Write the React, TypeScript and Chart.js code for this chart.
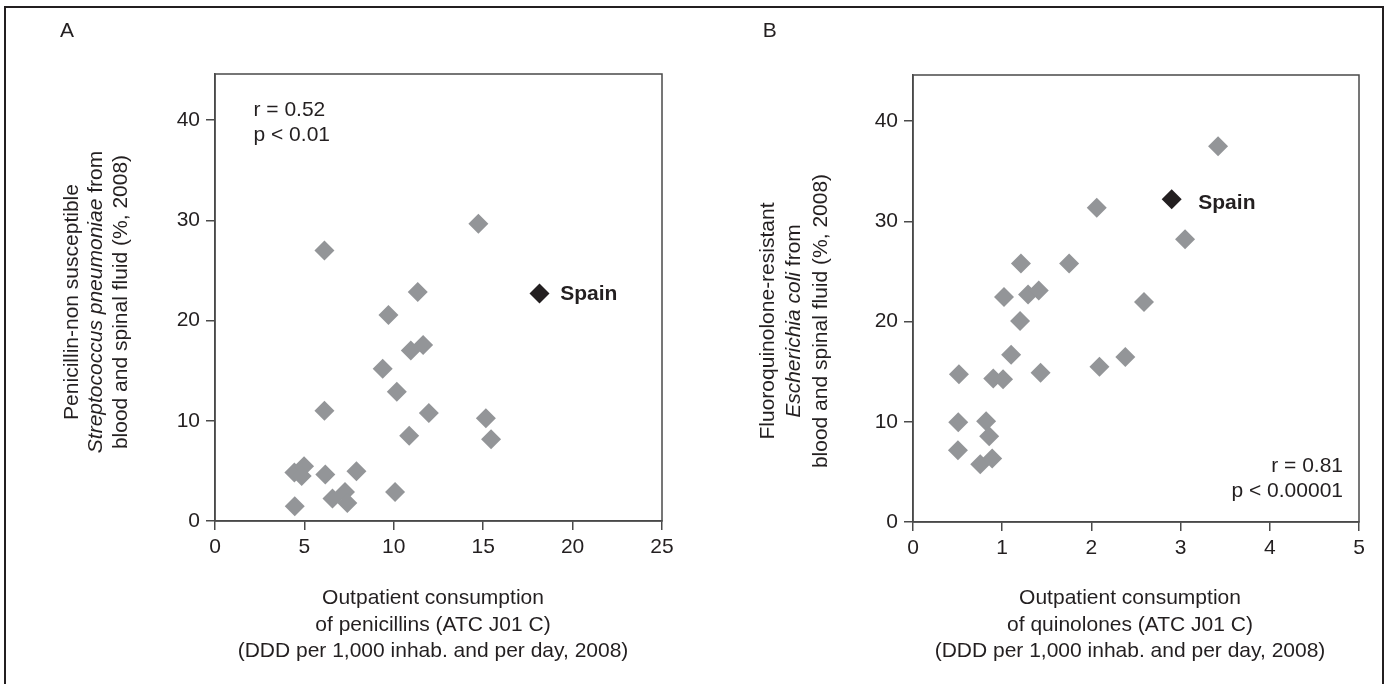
import React, { useEffect, useRef } from "react";
import { Chart, registerables } from "chart.js";

Chart.register(...registerables);

const FONT = "'Liberation Sans', Arial, Helvetica, sans-serif";
const TEXT = "#231f20";
const AXIS = "#4a4a4a";
const GRAY = "#939598";
const DARK = "#231f20";

// ---------- Panel A: penicillins vs S. pneumoniae ----------
const penicillinConsumption = [
  14.73, 6.12, 11.34, 9.7, 10.95, 11.64, 9.38, 10.17, 6.12, 11.96, 15.15, 10.86,
  15.44, 4.44, 4.98, 4.85, 6.17, 7.91, 10.07, 6.57, 7.27, 7.4, 4.46,
];
const pneumoniaeResistance = [
  29.65, 27.0, 22.85, 20.55, 17.0, 17.55, 15.2, 12.9, 11.0, 10.78, 10.25, 8.5,
  8.15, 4.84, 5.47, 4.5, 4.64, 4.97, 2.9, 2.24, 2.9, 1.8, 1.47,
];
const spainPenicillin = [18.15];
const spainPneumoniae = [22.7];
const penicillinTicks = [0, 5, 10, 15, 20, 25];

// ---------- Panel B: quinolones vs E. coli ----------
const quinoloneConsumption = [
  3.42, 2.06, 3.05, 1.21, 1.75, 1.02, 1.29, 1.41, 2.59, 1.2, 1.1, 2.38, 2.09,
  0.515, 0.9, 1.01, 1.43, 0.507, 0.82, 0.854, 0.504, 0.754, 0.888,
];
const coliResistance = [
  37.5, 31.35, 28.2, 25.8, 25.8, 22.45, 22.7, 23.1, 21.95, 20.06, 16.7, 16.47,
  15.5, 14.74, 14.31, 14.24, 14.9, 9.95, 10.05, 8.55, 7.16, 5.76, 6.33,
];
const spainQuinolone = [2.9];
const spainColi = [32.2];
const quinoloneTicks = [0, 1, 2, 3, 4, 5];

const resistanceTicks = [0, 10, 20, 30, 40];
const resistanceMax = 44.6;

type Seg = { text: string; italic?: boolean };

interface PanelCfg {
  letter: string;
  letterX: number;
  xs: number[];
  ys: number[];
  sx: number[];
  sy: number[];
  xTicks: number[];
  pad: { left: number; top: number; right: number; bottom: number };
  yAxisWidth: number;
  xAxisHeight: number;
  yTitle: Seg[][];
  yTitleX: number[];
  yTitleCenter: number;
  xTitle: string[];
  xTitleY: number[];
  xTitleDx: number;
  stats: string[];
  statsAlign: "left" | "right";
  statsX: (a: any) => number;
  statsY: number[];
  spainDx: number;
  spainDy: number;
}

const panelA: PanelCfg = {
  letter: "A",
  letterX: 60,
  xs: penicillinConsumption,
  ys: pneumoniaeResistance,
  sx: spainPenicillin,
  sy: spainPneumoniae,
  xTicks: penicillinTicks,
  pad: { left: 0, top: 74, right: 34, bottom: 0 },
  yAxisWidth: 215,
  xAxisHeight: 163,
  yTitle: [
    [{ text: "Penicillin-non susceptible" }],
    [{ text: "Streptococcus pneumoniae", italic: true }, { text: " from" }],
    [{ text: "blood and spinal fluid (%, 2008)" }],
  ],
  yTitleX: [72, 96.5, 121],
  yTitleCenter: 302,
  xTitle: [
    "Outpatient consumption",
    "of penicillins (ATC J01 C)",
    "(DDD per 1,000 inhab. and per day, 2008)",
  ],
  xTitleY: [598, 625, 651],
  xTitleDx: -5.5,
  stats: ["r = 0.52", "p < 0.01"],
  statsAlign: "left",
  statsX: (a) => a.left + 38.5,
  statsY: [110, 135.7],
  spainDx: 20.7,
  spainDy: 1,
};

const panelB: PanelCfg = {
  letter: "B",
  letterX: 66.7,
  xs: quinoloneConsumption,
  ys: coliResistance,
  sx: spainQuinolone,
  sy: spainColi,
  xTicks: quinoloneTicks,
  pad: { left: 0, top: 75, right: 33, bottom: 0 },
  yAxisWidth: 217,
  xAxisHeight: 162,
  yTitle: [
    [{ text: "Fluoroquinolone-resistant" }],
    [{ text: "Escherichia coli", italic: true }, { text: " from" }],
    [{ text: "blood and spinal fluid (%, 2008)" }],
  ],
  yTitleX: [72.3, 98.3, 125],
  yTitleCenter: 321,
  xTitle: [
    "Outpatient consumption",
    "of quinolones (ATC J01 C)",
    "(DDD per 1,000 inhab. and per day, 2008)",
  ],
  xTitleY: [598, 625, 651],
  xTitleDx: -6,
  stats: ["r = 0.81", "p < 0.00001"],
  statsAlign: "right",
  statsX: (a) => a.right - 16,
  statsY: [466, 491.7],
  spainDx: 26.6,
  spainDy: 4,
};

function makeDecor(cfg: PanelCfg) {
  return {
    id: "decor" + cfg.letter,
    afterDraw(chart: any) {
      const ctx = chart.ctx as CanvasRenderingContext2D;
      const a = chart.chartArea;
      ctx.save();
      ctx.strokeStyle = AXIS;
      ctx.lineWidth = 1.5;
      ctx.strokeRect(a.left, a.top, a.right - a.left, a.bottom - a.top);

      ctx.fillStyle = TEXT;
      ctx.textBaseline = "middle";
      ctx.font = `21px ${FONT}`;
      ctx.textAlign = "left";
      ctx.fillText(cfg.letter, cfg.letterX, 31);

      // statistics
      ctx.textAlign = cfg.statsAlign;
      cfg.stats.forEach((s, i) => ctx.fillText(s, cfg.statsX(a), cfg.statsY[i]));

      // x title
      ctx.textAlign = "center";
      const cx = (a.left + a.right) / 2 + cfg.xTitleDx;
      cfg.xTitle.forEach((s, i) => ctx.fillText(s, cx, cfg.xTitleY[i]));

      // y title (rotated, mixed italic)
      cfg.yTitle.forEach((segs, i) => {
        ctx.save();
        ctx.translate(cfg.yTitleX[i], cfg.yTitleCenter);
        ctx.rotate(-Math.PI / 2);
        ctx.textAlign = "left";
        const widths = segs.map((sg) => {
          ctx.font = `${sg.italic ? "italic " : ""}21px ${FONT}`;
          return ctx.measureText(sg.text).width;
        });
        const total = widths.reduce((p, c) => p + c, 0);
        let x = -total / 2;
        segs.forEach((sg, j) => {
          ctx.font = `${sg.italic ? "italic " : ""}21px ${FONT}`;
          ctx.fillText(sg.text, x, 0);
          x += widths[j];
        });
        ctx.restore();
      });

      // Spain label next to its point
      const meta = chart.getDatasetMeta(1);
      const pt = meta && meta.data && meta.data[0];
      if (pt) {
        ctx.font = `bold 21px ${FONT}`;
        ctx.textAlign = "left";
        ctx.fillText("Spain", pt.x + cfg.spainDx, pt.y + cfg.spainDy);
      }
      ctx.restore();
    },
  };
}

function Panel({ cfg, left }: { cfg: PanelCfg; left: number }) {
  const ref = useRef<HTMLCanvasElement | null>(null);
  useEffect(() => {
    if (!ref.current) return;
    const xTicks = cfg.xTicks;
    const chart = new Chart(ref.current, {
      type: "scatter",
      data: {
        datasets: [
          {
            data: cfg.xs.map((x, i) => ({ x, y: cfg.ys[i] })),
            pointStyle: "rectRot",
            pointRadius: 10,
            backgroundColor: GRAY,
            borderWidth: 0,
          },
          {
            data: cfg.sx.map((x, i) => ({ x, y: cfg.sy[i] })),
            pointStyle: "rectRot",
            pointRadius: 10,
            backgroundColor: DARK,
            borderWidth: 0,
          },
        ],
      },
      options: {
        responsive: false,
        animation: false,
        events: [],
        layout: { padding: cfg.pad },
        plugins: {
          legend: { display: false },
          tooltip: { enabled: false },
          title: { display: false },
        },
        scales: {
          x: {
            type: "linear",
            min: xTicks[0],
            max: xTicks[xTicks.length - 1],
            afterBuildTicks: (s: any) => {
              s.ticks = xTicks.map((v) => ({ value: v }));
            },
            afterFit: (s: any) => {
              s.height = cfg.xAxisHeight;
            },
            grid: {
              drawOnChartArea: false,
              drawTicks: true,
              tickLength: 9,
              color: AXIS,
              lineWidth: 1.5,
            },
            border: { display: true, color: AXIS, width: 1.5 },
            ticks: {
              padding: 5,
              color: TEXT,
              maxRotation: 0,
              autoSkip: false,
              font: { family: FONT, size: 21 },
            },
          },
          y: {
            type: "linear",
            min: 0,
            max: resistanceMax,
            afterBuildTicks: (s: any) => {
              s.ticks = resistanceTicks.map((v) => ({ value: v }));
            },
            afterFit: (s: any) => {
              s.width = cfg.yAxisWidth;
            },
            grid: {
              drawOnChartArea: false,
              drawTicks: true,
              tickLength: 9,
              color: AXIS,
              lineWidth: 1.5,
            },
            border: { display: true, color: AXIS, width: 1.5 },
            ticks: {
              padding: 6,
              color: TEXT,
              autoSkip: false,
              font: { family: FONT, size: 21 },
            },
          },
        },
      },
      plugins: [makeDecor(cfg)],
    } as any);
    return () => chart.destroy();
  }, [cfg]);
  return (
    <canvas
      ref={ref}
      width={696}
      height={684}
      style={{ position: "absolute", left, top: 0, width: 696, height: 684 }}
    />
  );
}

export default function App() {
  return (
    <div
      style={{
        position: "fixed",
        left: 0,
        top: 0,
        width: 1392,
        height: 684,
        background: "#ffffff",
        overflow: "hidden",
      }}
    >
      <div
        style={{
          position: "absolute",
          left: 4,
          top: 6,
          width: 1380,
          height: 700,
          border: `2px solid ${DARK}`,
          boxSizing: "border-box",
        }}
      />
      <Panel cfg={panelA} left={0} />
      <Panel cfg={panelB} left={696} />
    </div>
  );
}
